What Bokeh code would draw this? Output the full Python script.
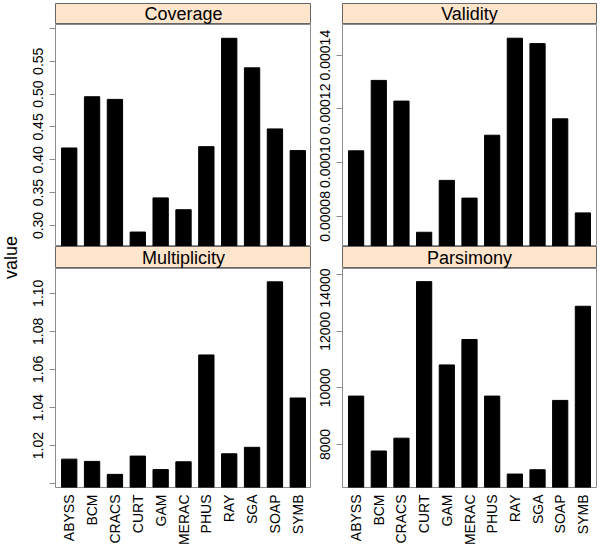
import math
from bokeh.plotting import figure
from bokeh.models import Range1d, FactorRange, FixedTicker, PrintfTickFormatter
from bokeh.layouts import row, column
from bokeh.core.properties import value
from bokeh.embed import file_html
from bokeh.resources import INLINE

# ---------------- data ----------------
categories = ["ABYSS", "BCM", "CRACS", "CURT", "GAM", "MERAC",
              "PHUS", "RAY", "SGA", "SOAP", "SYMB"]
coverage = [0.418, 0.496, 0.492, 0.290, 0.342, 0.324, 0.420, 0.585, 0.540, 0.447, 0.414]
validity = [1.044e-4, 1.306e-4, 1.229e-4, 7.41e-5, 9.34e-5, 8.68e-5,
            1.102e-4, 1.463e-4, 1.443e-4, 1.163e-4, 8.13e-5]
multiplicity = [1.0129, 1.0117, 1.0049, 1.0145, 1.0074, 1.0115,
                1.0676, 1.0157, 1.0191, 1.1060, 1.0450]
parsimony = [9711, 7770, 8223, 13756, 10812, 11711, 9711, 6955, 7108, 9558, 12885]

panel_titles = ["Coverage", "Validity", "Multiplicity", "Parsimony"]
ylab = "value"

coverage_ticks = [0.30, 0.35, 0.40, 0.45, 0.50, 0.55]
coverage_extra = [0.60]
validity_ticks = [0.00008, 0.00010, 0.00012, 0.00014]
multiplicity_ticks = [1.02, 1.04, 1.06, 1.08, 1.10]
multiplicity_extra = [1.00]
parsimony_ticks = [8000, 10000, 12000, 14000]

coverage_range = (0.268, 0.606)
validity_range = (0.0000688, 0.0001514)
multiplicity_range = (0.998, 1.113)
parsimony_range = (6480, 14220)

# ---------------- style ----------------
FONT = "Liberation Sans"
PANEL_LINE = "#8c8c8c"
STRIP_FILL = "#FFE5CC"
STRIP_LINE = "#666666"

VW = 20          # ylab column
LB = 35          # left border (y axis) of left column
RB_GAP = 31      # left border of right column
LFW = 256        # left frame width
RFW = 254        # right frame width
RMARG = 2
TOP = 3
STRIP1_H = 21
STRIP2_H = 22
P1_H = 222
P2_FRAME = 222
XLAB_H = 58
TOTAL_H = TOP + STRIP1_H + P1_H + STRIP2_H + P2_FRAME + XLAB_H


def make_panel(vals, yr, ticks, extra, fmt, left_border, frame_w, right_border, frame_h, bottom_axis):
    h = frame_h + (XLAB_H if bottom_axis else 0)
    p = figure(width=left_border + frame_w + right_border, height=h,
               x_range=FactorRange(factors=categories, range_padding=0.1,
                                   range_padding_units="absolute"),
               y_range=Range1d(*yr),
               output_backend="svg", toolbar_location=None,
               x_axis_location="below" if bottom_axis else None,
               y_axis_location="left",
               min_border_left=left_border, min_border_right=right_border,
               min_border_top=0, min_border_bottom=XLAB_H if bottom_axis else 0)
    p.vbar(x=categories, top=vals, width=0.67, fill_color="black", line_color="black")
    p.xgrid.visible = False
    p.ygrid.visible = False
    p.outline_line_color = PANEL_LINE
    p.outline_line_width = 1
    p.background_fill_color = "white"
    p.border_fill_color = "white"

    ax = p.yaxis[0]
    ax.ticker = FixedTicker(ticks=ticks, minor_ticks=extra)
    ax.formatter = PrintfTickFormatter(format=fmt)
    ax.major_label_orientation = "vertical"
    ax.axis_line_color = None
    ax.major_tick_in = 0
    ax.major_tick_out = 6
    ax.minor_tick_in = 0
    ax.minor_tick_out = 6
    ax.major_tick_line_color = PANEL_LINE
    ax.minor_tick_line_color = PANEL_LINE
    ax.major_label_text_font = FONT
    ax.major_label_text_font_size = "14px"
    ax.major_label_text_color = "black"
    ax.major_label_standoff = 6

    if bottom_axis:
        xa = p.xaxis[0]
        xa.major_label_orientation = math.pi / 2
        xa.axis_line_color = None
        xa.major_tick_line_color = None
        xa.major_tick_in = 0
        xa.major_tick_out = 0
        xa.major_label_standoff = 7
        xa.major_label_text_font = FONT
        xa.major_label_text_font_size = "14px"
        xa.major_label_text_color = "black"
    return p


def make_strip(title, left_border, frame_w, right_border, h, top):
    s = figure(width=left_border + frame_w + right_border, height=h + top,
               x_range=Range1d(0, 1), y_range=Range1d(0, 1),
               output_backend="svg", toolbar_location=None,
               x_axis_location=None, y_axis_location=None,
               min_border_left=left_border, min_border_right=right_border,
               min_border_top=top, min_border_bottom=0)
    s.grid.visible = False
    s.background_fill_color = STRIP_FILL
    s.border_fill_color = "white"
    s.outline_line_color = STRIP_LINE
    s.text(x=[0.5], y=[0.5], text=[title], text_align="center", text_baseline="middle",
           text_font=value(FONT), text_font_size=value("18px"), text_color="black")
    return s


s1 = make_strip(panel_titles[0], LB, LFW, 0, STRIP1_H, TOP)
s2 = make_strip(panel_titles[1], RB_GAP, RFW, RMARG, STRIP1_H, TOP)
p1 = make_panel(coverage, coverage_range, coverage_ticks, coverage_extra, "%.2f",
                LB, LFW, 0, P1_H, False)
p2 = make_panel(validity, validity_range, validity_ticks, [], "%.5f",
                RB_GAP, RFW, RMARG, P1_H, False)
s3 = make_strip(panel_titles[2], LB, LFW, 0, STRIP2_H, 0)
s4 = make_strip(panel_titles[3], RB_GAP, RFW, RMARG, STRIP2_H, 0)
p3 = make_panel(multiplicity, multiplicity_range, multiplicity_ticks, multiplicity_extra, "%.2f",
                LB, LFW, 0, P2_FRAME, True)
p4 = make_panel(parsimony, parsimony_range, parsimony_ticks, [], "%d",
                RB_GAP, RFW, RMARG, P2_FRAME, True)

# y-axis label column
v = figure(width=VW, height=TOTAL_H, x_range=Range1d(0, VW), y_range=Range1d(TOTAL_H, 0),
           output_backend="svg", toolbar_location=None,
           x_axis_location=None, y_axis_location=None,
           min_border_left=0, min_border_right=0, min_border_top=0, min_border_bottom=0)
v.grid.visible = False
v.outline_line_color = None
v.text(x=[10], y=[257], text=[ylab], angle=math.pi / 2, text_align="center",
       text_baseline="middle", text_font=value(FONT), text_font_size=value("18px"),
       text_color="black")

grid = column(row(s1, s2), row(p1, p2), row(s3, s4), row(p3, p4))
layout = row(v, grid)

open("out.html", "w").write(file_html(layout, INLINE))
